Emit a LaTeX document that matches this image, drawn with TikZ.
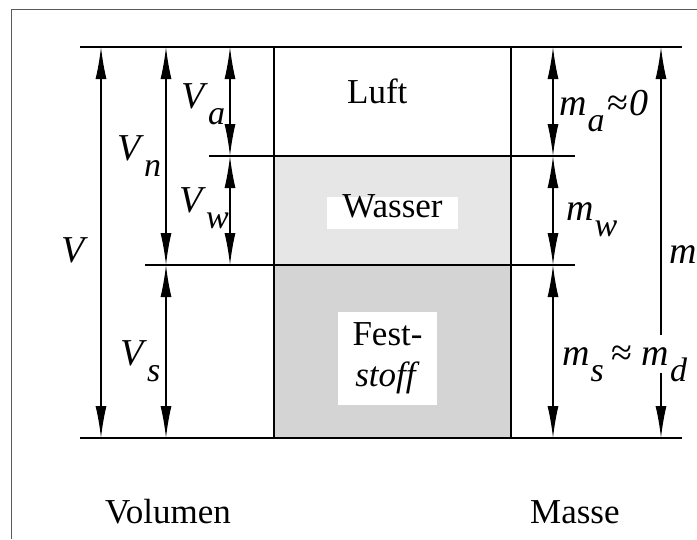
\documentclass[tikz,border=0pt]{standalone}
\usepackage{fontspec}
\setmainfont{Liberation Serif}
\usetikzlibrary{arrows.meta}
\definecolor{wasserc}{HTML}{E6E6E6}
\definecolor{festc}{HTML}{D4D4D4}
\definecolor{framec}{HTML}{5A5A5A}
\newcommand\subl[1]{\raisebox{-16pt}[0pt][0pt]{\fontsize{34}{34}\selectfont\textit{#1}}}
\begin{document}
\begin{tikzpicture}[x=1pt,y=-1pt,
  mainline/.style={line width=1.6pt},
  dimarr/.style={line width=1.4pt,{Latex[length=32pt,width=11pt]}-{Latex[length=32pt,width=11pt]}},
  lbl/.style={inner sep=0pt,anchor=base west,font=\fontsize{38}{44}\selectfont},
  txt/.style={inner sep=0pt,font=\fontsize{35}{41}\selectfont}]
\useasboundingbox (0,0) rectangle (697,539);
% frame
\draw[framec,line width=1pt] (11,539) -- (11,9) -- (697,9);
% fills
\fill[wasserc] (274,156) rectangle (511,265);
\fill[festc] (274,265) rectangle (511,438);
% coordinates
\coordinate (tl) at (80,47);   \coordinate (tr) at (682,47);
\coordinate (bl) at (80,438);  \coordinate (br) at (682,438);
\coordinate (m1l) at (209,156); \coordinate (m1r) at (575,156);
\coordinate (m2l) at (145,265); \coordinate (m2r) at (575,265);
\coordinate (b1t) at (274,47); \coordinate (b1b) at (274,438);
\coordinate (b2t) at (511,47); \coordinate (b2b) at (511,438);
\draw[mainline] (tl) -- (tr);
\draw[mainline] (bl) -- (br);
\draw[mainline] (m1l) -- (m1r);
\draw[mainline] (m2l) -- (m2r);
\draw[mainline] (b1t) -- (b1b);
\draw[mainline] (b2t) -- (b2b);
% dimension arrows, left
\coordinate (Vt) at (101,47);  \coordinate (Vb) at (101,438);
\coordinate (Vnt) at (166,47); \coordinate (Vnb) at (166,265);
\coordinate (Vsb) at (166,438);
\coordinate (Vat) at (230,47); \coordinate (Vab) at (230,156);
\coordinate (Vwb) at (230,265);
\draw[dimarr] (Vt) -- (Vb);
\draw[dimarr] (Vnt) -- (Vnb);
\draw[dimarr] (Vnb) -- (Vsb);
\draw[dimarr] (Vat) -- (Vab);
\draw[dimarr] (Vab) -- (Vwb);
% dimension arrows, right
\coordinate (mat) at (553,47); \coordinate (mab) at (553,156);
\coordinate (mwb) at (553,265); \coordinate (msb) at (553,438);
\coordinate (mt) at (661,47); \coordinate (mb) at (661,438);
\draw[dimarr] (mat) -- (mab);
\draw[dimarr] (mab) -- (mwb);
\draw[dimarr] (mwb) -- (msb);
\draw[dimarr] (mt) -- (mb);
% left labels
\node[lbl] (lVa) at (181,108) {\textit{V}\subl{a}};
\node[lbl] (lVn) at (117,160) {\textit{V}\subl{n}};
\node[lbl] (lVw) at (179,212) {\textit{V}\subl{w}};
\node[lbl] (lV) at (61,262) {\textit{V}};
\node[lbl] (lVs) at (120,365) {\textit{V}\subl{s}};
% right labels
\node[lbl] (lma) at (559,115) {\textit{m}\hspace{1pt}\subl{a}\hspace{3pt}≈\hspace{1pt}\textit{0}};
\node[lbl] (lmw) at (566,220) {\textit{m}\hspace{1pt}\subl{w}};
\node[lbl] (lm) at (669,263) {\textit{m}};
\node[lbl,fill=white,inner xsep=1pt,text height=30pt,text depth=8pt] (lms) at (561,365) {\textit{m}\hspace{1pt}\subl{s}\hspace{8pt}≈\hspace{9pt}\textit{m}\hspace{1pt}\subl{d}};
% material labels
\node[txt,anchor=base west] (luft) at (347,103) {Luft};
\node[txt,anchor=base,fill=white,minimum width=131pt,text height=20pt,text depth=12pt] (wasser) at (392.5,217) {Wasser};
\node[txt,fill=white,minimum width=99pt,minimum height=93pt,align=center] (fest) at (387.5,358.5) {Fest-\\\textit{stoff}};
\node[txt,anchor=base west] (vol) at (105,523) {Volumen};
\node[txt,anchor=base west] (mas) at (530,523) {Masse};
\end{tikzpicture}
\end{document}
